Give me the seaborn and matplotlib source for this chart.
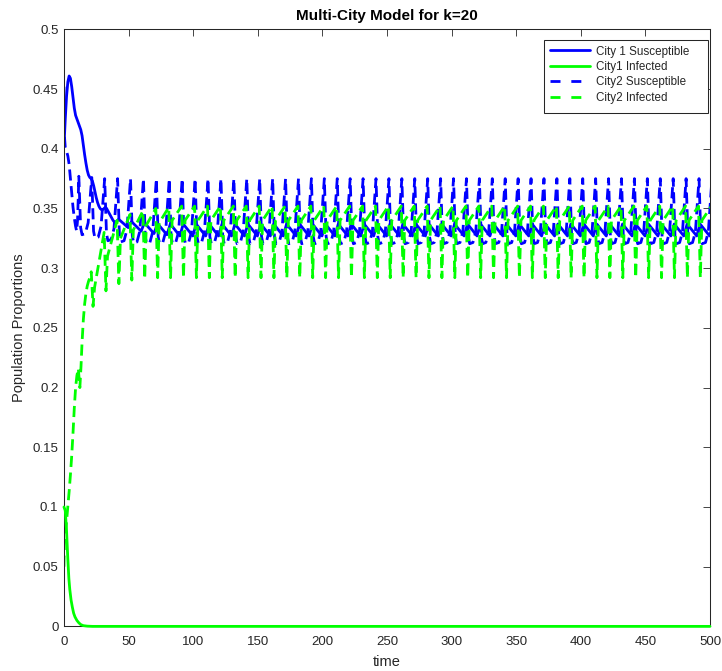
import matplotlib
matplotlib.use("Agg")
import matplotlib.pyplot as plt
from matplotlib.lines import Line2D
from matplotlib.patches import Rectangle
import seaborn as sns
import pandas as pd

# ---------------- chart text ----------------
TITLE = "Multi-City Model for k=20"
X_LABEL = "time"
Y_LABEL = "Population Proportions"
SERIES = ["City 1 Susceptible", "City1 Infected", "City2 Susceptible", "City2 Infected"]

X_TICKS = [0, 50, 100, 150, 200, 250, 300, 350, 400, 450, 500]
X_TICK_LABELS = ["0", "50", "100", "150", "200", "250", "300", "350", "400", "450", "500"]
Y_TICKS = [0, 0.05, 0.1, 0.15, 0.2, 0.25, 0.3, 0.35, 0.4, 0.45, 0.5]
Y_TICK_LABELS = ["0", "0.05", "0.1", "0.15", "0.2", "0.25", "0.3", "0.35", "0.4", "0.45", "0.5"]

# ---------------- data ----------------
# City 1 Susceptible, initial transient
s1_start_t = [0, 1, 2, 3, 4, 5, 6, 7, 8, 9, 10, 11, 12, 13, 14, 15, 16, 17, 18, 19,
              20, 21, 22, 23, 24, 25, 26, 27, 28, 29, 30, 31, 32, 33, 35, 37, 38]
s1_start_v = [0.402, 0.425, 0.444, 0.456, 0.461, 0.459, 0.452, 0.443, 0.434, 0.428,
              0.425, 0.422, 0.419, 0.416, 0.411, 0.403, 0.395, 0.388, 0.382, 0.378,
              0.376, 0.375, 0.373, 0.369, 0.364, 0.359, 0.355, 0.352, 0.350, 0.349,
              0.349, 0.350, 0.351, 0.350, 0.346, 0.342, 0.340]

# City1 Infected
i1_t = [0, 1, 2, 2.5, 3, 3.8, 4.5, 5.5, 6.5, 7.5, 8.5, 10, 11.5, 13, 15, 18, 22, 500]
i1_v = [0.100, 0.097, 0.080, 0.068, 0.056, 0.040, 0.031, 0.022, 0.016, 0.011,
        0.008, 0.005, 0.003, 0.0015, 0.0006, 0.0002, 0.0, 0.0]

# City2 Susceptible, initial transient
s2_start_t = [0, 0.4, 1, 2, 3, 4, 5, 6, 7, 8, 9, 9.8, 10.5, 11.0]
s2_start_v = [0.452, 0.410, 0.401, 0.398, 0.394, 0.387, 0.375, 0.362, 0.351, 0.342,
              0.335, 0.331, 0.340, 0.357]

# City2 Infected, initial transient
i2_start_t = [0, 0.3, 1, 2, 3, 4, 5, 6, 7, 8, 9, 10, 11.1, 12.3, 13.2, 14, 15, 16,
              17, 18, 19, 20.3]
i2_start_v = [0.050, 0.068, 0.077, 0.088, 0.100, 0.113, 0.127, 0.143, 0.162, 0.183,
              0.200, 0.210, 0.216, 0.200, 0.218, 0.238, 0.257, 0.270, 0.279, 0.285,
              0.289, 0.293]

# times of the City2 Susceptible spikes (one per oscillation)
cycle_t = [11.5, 21.5, 31.5, 41.5, 51.5, 61.5, 71.5, 81.5, 91.5, 101.5,
           111.5, 121.5, 131.5, 141.5, 151.5, 161.5, 171.5, 181.5, 191.5, 201.5,
           211.5, 221.5, 231.5, 241.5, 251.5, 261.5, 271.5, 281.5, 291.5, 301.5,
           311.5, 321.5, 331.5, 341.5, 351.5, 361.5, 371.5, 381.5, 391.5, 401.5,
           411.5, 421.5, 431.5, 441.5, 451.5, 461.5, 471.5, 481.5, 491.5, 501.5]

# City2 Susceptible: spike tops and troughs, cycles 0..49
s2_top = [0.377, 0.376, 0.375, 0.375, 0.375, 0.375, 0.375, 0.375, 0.375, 0.375,
          0.375, 0.375, 0.375, 0.375, 0.375, 0.375, 0.375, 0.375, 0.375, 0.375,
          0.375, 0.375, 0.375, 0.375, 0.375, 0.375, 0.375, 0.375, 0.375, 0.375,
          0.375, 0.375, 0.375, 0.375, 0.375, 0.375, 0.375, 0.375, 0.375, 0.375,
          0.375, 0.375, 0.375, 0.375, 0.375, 0.375, 0.375, 0.375, 0.375, 0.375]
s2_bot = [0.328, 0.325, 0.323, 0.322, 0.321, 0.3205, 0.3205, 0.3205, 0.3205, 0.3205,
          0.3205, 0.3205, 0.3205, 0.3205, 0.3205, 0.3205, 0.3205, 0.3205, 0.3205, 0.3205,
          0.3205, 0.3205, 0.3205, 0.3205, 0.3205, 0.3205, 0.3205, 0.3205, 0.3205, 0.3205,
          0.3205, 0.3205, 0.3205, 0.3205, 0.3205, 0.3205, 0.3205, 0.3205, 0.3205, 0.3205,
          0.3205, 0.3205, 0.3205, 0.3205, 0.3205, 0.3205, 0.3205, 0.3205, 0.3205, 0.3205]

# City2 Infected: top before drop, bottom, recovered level, cycles 1..49
i2_top = [0.297, 0.330, 0.340, 0.345, 0.348, 0.350, 0.351, 0.352, 0.352, 0.352,
          0.352, 0.352, 0.352, 0.352, 0.352, 0.352, 0.352, 0.352, 0.352, 0.352,
          0.352, 0.352, 0.352, 0.352, 0.352, 0.352, 0.352, 0.352, 0.352, 0.352,
          0.352, 0.352, 0.352, 0.352, 0.352, 0.352, 0.352, 0.352, 0.352, 0.352,
          0.352, 0.352, 0.352, 0.352, 0.352, 0.352, 0.352, 0.352, 0.352]
i2_bot = [0.268, 0.281, 0.287, 0.290, 0.291, 0.292, 0.292, 0.292, 0.292, 0.292,
          0.292, 0.292, 0.292, 0.292, 0.292, 0.292, 0.292, 0.292, 0.292, 0.292,
          0.292, 0.292, 0.292, 0.292, 0.292, 0.292, 0.292, 0.292, 0.292, 0.292,
          0.292, 0.292, 0.292, 0.292, 0.292, 0.292, 0.292, 0.292, 0.292, 0.292,
          0.292, 0.292, 0.292, 0.292, 0.292, 0.292, 0.292, 0.292, 0.292]
i2_mid = [0.284, 0.310, 0.325, 0.332, 0.336, 0.338, 0.340, 0.340, 0.340, 0.340,
          0.340, 0.340, 0.340, 0.340, 0.340, 0.340, 0.340, 0.340, 0.340, 0.340,
          0.340, 0.340, 0.340, 0.340, 0.340, 0.340, 0.340, 0.340, 0.340, 0.340,
          0.340, 0.340, 0.340, 0.340, 0.340, 0.340, 0.340, 0.340, 0.340, 0.340,
          0.340, 0.340, 0.340, 0.340, 0.340, 0.340, 0.340, 0.340, 0.340]

# City 1 Susceptible sawtooth: trough and peak, cycles 3..49
s1_low = [0.338, 0.334, 0.331, 0.329, 0.328, 0.327, 0.327, 0.327, 0.327, 0.327,
          0.327, 0.327, 0.327, 0.327, 0.327, 0.327, 0.327, 0.327, 0.327, 0.327,
          0.327, 0.327, 0.327, 0.327, 0.327, 0.327, 0.327, 0.327, 0.327, 0.327,
          0.327, 0.327, 0.327, 0.327, 0.327, 0.327, 0.327, 0.327, 0.327, 0.327,
          0.327, 0.327, 0.327, 0.327, 0.327, 0.327, 0.327]
s1_high = [0.341, 0.339, 0.338, 0.3375, 0.337, 0.337, 0.337, 0.337, 0.337, 0.337,
           0.337, 0.337, 0.337, 0.337, 0.337, 0.337, 0.337, 0.337, 0.337, 0.337,
           0.337, 0.337, 0.337, 0.337, 0.337, 0.337, 0.337, 0.337, 0.337, 0.337,
           0.337, 0.337, 0.337, 0.337, 0.337, 0.337, 0.337, 0.337, 0.337, 0.337,
           0.337, 0.337, 0.337, 0.337, 0.337, 0.337, 0.337]

# ---------------- assemble the series ----------------
s1_t, s1_v = list(s1_start_t), list(s1_start_v)
for tk, lo, hi in zip(cycle_t[3:], s1_low, s1_high):
    s1_t += [tk - 1.8, tk + 0.8]
    s1_v += [lo, hi]

s2_t, s2_v = list(s2_start_t), list(s2_start_v)
for tk, top, bot in zip(cycle_t, s2_top, s2_bot):
    s2_t += [tk, tk + 1.4, tk + 2.5, tk + 5.0, tk + 7.2]
    s2_v += [top, bot + 0.006, bot, bot + 0.001, bot + 0.010]

i2_t, i2_v = list(i2_start_t), list(i2_start_v)
for tk, top, bot, mid in zip(cycle_t[1:], i2_top, i2_bot, i2_mid):
    i2_t += [tk - 0.4, tk + 1.0, tk + 2.2]
    i2_v += [top, bot, mid]

frames = []
for name, tt, vv in zip(SERIES, [s1_t, i1_t, s2_t, i2_t], [s1_v, i1_v, s2_v, i2_v]):
    frames.append(pd.DataFrame({"time": tt, "value": vv, "series": name}))
df = pd.concat(frames, ignore_index=True)

# ---------------- style ----------------
sns.set_style("white")
plt.rcParams["font.family"] = ["Liberation Sans", "DejaVu Sans"]
INK = "#262626"
BLUE, GREEN = "#0000ff", "#00ff00"

palette = {SERIES[0]: BLUE, SERIES[1]: GREEN, SERIES[2]: BLUE, SERIES[3]: GREEN}
dashes = {SERIES[0]: "", SERIES[1]: "", SERIES[2]: (4, 2), SERIES[3]: (4, 2)}

W, H = 722, 671
fig = plt.figure(figsize=(W / 100, H / 100), dpi=100)
ax = fig.add_axes([0.0886, 0.0665, 0.8948, 0.8897])

sns.lineplot(data=df, x="time", y="value", hue="series", style="series",
             hue_order=SERIES, style_order=SERIES, palette=palette, dashes=dashes,
             linewidth=2, estimator=None, sort=False, legend=False, ax=ax)

lines = ax.get_lines()[:4]
# the City1 Infected line lies on the bottom axis: show it fully
lines[1].set_clip_on(False)
lines[1].set_zorder(3)

ax.set_xlim(0, 500)
ax.set_ylim(0, 0.5)
ax.set_xticks(X_TICKS)
ax.set_xticklabels(X_TICK_LABELS)
ax.set_yticks(Y_TICKS)
ax.set_yticklabels(Y_TICK_LABELS)
ax.tick_params(axis="both", direction="in", length=5, width=0.6, colors=INK,
               labelsize=9.5, top=True, right=True)
ax.tick_params(axis="x", pad=7)
ax.tick_params(axis="y", pad=4)
for sp in ax.spines.values():
    sp.set_visible(True)
    sp.set_color(INK)
    sp.set_linewidth(0.75)

ax.set_title(TITLE, fontsize=11, fontweight="bold", color="black", pad=7)
ax.set_xlabel(X_LABEL, fontsize=10.5, color=INK, labelpad=5)
ax.set_ylabel(Y_LABEL, fontsize=10.5, color=INK, labelpad=5)

# legend (MATLAB-like box, drawn as a separate frame)
proxies = [
    Line2D([], [], color=BLUE, lw=2),
    Line2D([], [], color=GREEN, lw=2),
    Line2D([], [], color=BLUE, lw=2, dashes=(3.6, 3.9)),
    Line2D([], [], color=GREEN, lw=2, dashes=(3.6, 3.9)),
]
leg = fig.legend(proxies, SERIES, loc="upper left",
                 bbox_to_anchor=(550 / W, 1 - 45.5 / H), bbox_transform=fig.transFigure,
                 borderaxespad=0, borderpad=0, frameon=False, fontsize=8.4,
                 handlelength=3.45, handletextpad=0.45, labelspacing=0.3)
for t in leg.get_texts():
    t.set_color(INK)
box = Rectangle((543.5 / W, 1 - 112.5 / H), (707.5 - 543.5) / W, (112.5 - 40.5) / H,
                transform=fig.transFigure, facecolor="white", edgecolor=INK,
                linewidth=0.75, zorder=4)
fig.patches.append(box)
leg.set_zorder(5)

fig.savefig("out.png", dpi=100)
